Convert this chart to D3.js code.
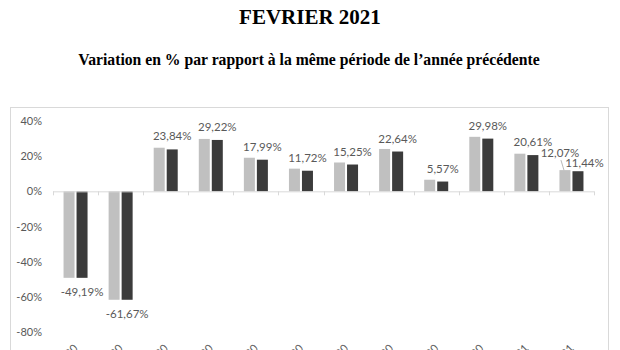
<!DOCTYPE html>
<html><head><meta charset="utf-8">
<script src="https://cdn.jsdelivr.net/npm/d3@7"></script>
<style>body{margin:0;background:#fff}svg{display:block}</style>
</head><body>
<script>
const title = "FEVRIER 2021";
const subtitle = "Variation en % par rapport à la même période de l’année précédente";
const categories = ["mars-20","avr.-20","mai-20","juin-20","juil.-20","août-20","sept.-20","oct.-20","nov.-20","déc.-20","janv.-21","févr.-21"];
const seriesNames = ["prev","cur"];
const prevValues = [-49.19, -61.67, 24.8, 29.8, 19.1, 12.9, 16.4, 24.1, 6.6, 31.0, 21.4, 12.07];
const curValues  = [-49.19, -61.67, 23.84, 29.22, 17.99, 11.72, 15.25, 22.64, 5.57, 29.98, 20.61, 11.44];
const yTicks = [-80, -60, -40, -20, 0, 20, 40];

const W = 620, H = 350;
const svg = d3.select("body").append("svg").attr("width", W).attr("height", H);

svg.append("text").attr("x", 310).attr("y", 24).attr("text-anchor","middle")
  .attr("font-family","Liberation Serif, Times New Roman, serif").attr("font-weight","bold")
  .attr("font-size", 21).attr("fill","#000").text(title);
svg.append("text").attr("x", 309).attr("y", 65).attr("text-anchor","middle")
  .attr("font-family","Liberation Serif, Times New Roman, serif").attr("font-weight","bold")
  .attr("font-size", 15.7).attr("fill","#000").text(subtitle);

// chart area border
svg.append("rect").attr("x",10.5).attr("y",107.5).attr("width",598).attr("height",260)
  .attr("fill","none").attr("stroke","#d9d9d9").attr("stroke-width",1);

const x = d3.scaleBand().domain(categories).range([53, 594]).paddingInner(0).paddingOuter(0);
const xs = d3.scaleBand().domain(seriesNames).range([0, x.bandwidth()]).paddingInner(2/13).paddingOuter(0.81);
const y = d3.scaleLinear().domain([-80, 40]).range([332, 121]);

const font = "Lato, 'Open Sans', sans-serif";
const txt = "#595959";

// y axis labels
const yAxis = d3.axisLeft(y).tickValues(yTicks).tickFormat(d => d + "%").tickSize(0).tickPadding(0);
const ya = svg.append("g").attr("transform","translate(42,0)").call(yAxis);
ya.select(".domain").remove();
ya.selectAll("text").attr("font-family", font).attr("font-size", 11).attr("fill", txt);

// bars
const data = categories.map((c,i) => ({c, prev: prevValues[i], cur: curValues[i]}));
const colors = {prev: "#c0c0c0", cur: "#3b3b3b"};
const g = svg.append("g");
data.forEach(d => {
  seriesNames.forEach(s => {
    const v = d[s];
    g.append("rect")
      .attr("x", x(d.c) + xs(s))
      .attr("y", Math.min(y(v), y(0)))
      .attr("width", xs.bandwidth())
      .attr("height", Math.abs(y(v) - y(0)))
      .attr("fill", colors[s]);
  });
});

// x axis (zero line with ticks)
const xAxis = d3.axisBottom(x).tickSize(4).tickFormat("");
const xa = svg.append("g").attr("transform", `translate(0,${y(0)})`).call(xAxis);
xa.select(".domain").attr("stroke","#d9d9d9").attr("d", `M53,0.5H594`);
xa.selectAll(".tick").remove();
categories.concat([null]).forEach((c,i) => {
  const xx = Math.round(53 + i * x.step()) + 0.5;
  xa.append("line").attr("x1", xx).attr("x2", xx).attr("y1", 0).attr("y2", 4).attr("stroke","#d9d9d9");
});

// category labels (rotated, cut by the bottom edge as in the reference)
svg.append("g").selectAll("text").data(categories).join("text")
  .attr("transform", d => `translate(${x(d) + x.bandwidth()/2 + 3},349) rotate(-45)`)
  .attr("text-anchor","end").attr("font-family", font).attr("font-size", 11).attr("fill", txt)
  .text(d => d);

// value labels
const fmt = v => d3.format(".2f")(v).replace(".", ",").replace("\u2212", "-") + "%";
data.forEach((d, i) => {
  const last = i === data.length - 1;
  const cx = x(d.c) + xs("cur") + xs.bandwidth()/2;
  if (!last) {
    const yy = d.cur >= 0 ? y(d.cur) - 9 : y(d.cur) + 18;
    g.append("text").attr("x", cx).attr("y", yy).attr("text-anchor","middle")
      .attr("font-family", font).attr("font-size", 11.5).attr("fill", txt).text(fmt(d.cur));
  } else {
    const px = x(d.c) + xs("prev") + xs.bandwidth()/2;
    g.append("text").attr("x", px - 5).attr("y", y(d.prev) - 13).attr("text-anchor","middle")
      .attr("font-family", font).attr("font-size", 11.5).attr("fill", txt).text(fmt(d.prev));
    g.append("line").attr("x1", px - 4).attr("y1", y(d.prev) - 10).attr("x2", px - 1).attr("y2", y(d.prev))
      .attr("stroke", "#a6a6a6").attr("stroke-width", 0.8);
    g.append("text").attr("x", cx + 6.5).attr("y", y(d.cur) - 4).attr("text-anchor","middle")
      .attr("font-family", font).attr("font-size", 11.5).attr("fill", txt).text(fmt(d.cur));
  }
});
</script>
</body></html>
